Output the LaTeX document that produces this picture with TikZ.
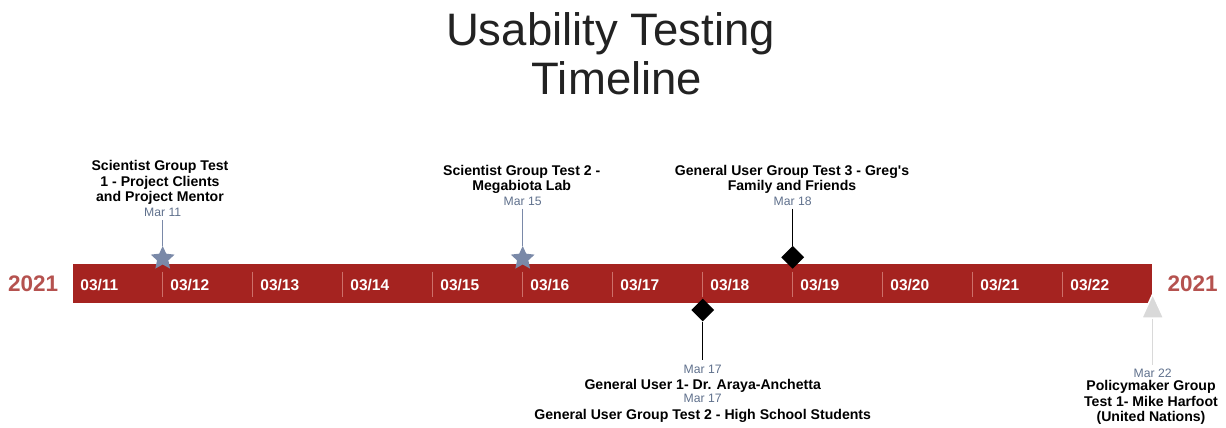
\documentclass[tikz,border=0pt]{standalone}
\usepackage{fontspec}
\setmainfont{Liberation Sans}[Ligatures=TeXOff]
\usetikzlibrary{shapes.geometric}

\definecolor{barred}{RGB}{165,35,32}
\definecolor{tickred}{RGB}{205,112,106}
\definecolor{yearred}{RGB}{181,82,79}
\definecolor{datecol}{RGB}{95,112,140}
\definecolor{starcol}{RGB}{122,137,168}
\definecolor{tricol}{RGB}{217,217,217}
\definecolor{titlecol}{RGB}{34,34,34}

\begin{document}
\begin{tikzpicture}[x=1pt,y=-1pt,
  titletext/.style={font=\fontsize{45.5}{49}\selectfont, text=titlecol, inner sep=0pt, anchor=base},
  daylabel/.style={font=\fontsize{15.5}{16}\selectfont\bfseries, text=white, inner sep=0pt, anchor=base west},
  yearlabel/.style={font=\fontsize{22.5}{24}\selectfont\bfseries, text=yearred, inner sep=0pt, anchor=base west},
  evtext/.style={font=\fontsize{14.1}{15.5}\selectfont\bfseries, align=center, inner sep=0pt, text depth=0pt},
  datetext/.style={font=\fontsize{12.2}{13}\selectfont, text=datecol, inner sep=0pt, anchor=base},
  starmark/.style={star, star points=5, star point ratio=2.1, minimum size=25pt, inner sep=0pt, fill=starcol},
  diamark/.style={diamond, minimum width=23pt, minimum height=23pt, inner sep=0pt, fill=black},
  trimark/.style={isosceles triangle, isosceles triangle stretches, shape border rotate=90,
    minimum width=22pt, minimum height=24pt, inner sep=0pt, fill=tricol, draw=white, line width=1.5pt},
  stem/.style={line width=1.2pt},
  daytick/.style={draw=tickred, line width=0.9pt}
]
\useasboundingbox (0,0) rectangle (1226,428);

% title
\node[titletext] (title1) at (610.5,46) {Usability Testing};
\node[titletext] (title2) at (617,95) {Timeline};

% timeline bar
\node[fill=barred, minimum width=1079.3pt, minimum height=39pt, inner sep=0pt, anchor=north west] (bar) at (72.7,264) {};

% day separators and labels
\foreach \d [count=\k from 0] in {11,...,22}{
  \pgfmathsetmacro{\xx}{72.7+90*\k}
  \ifnum\k>0
    \draw[daytick] (\xx,271.7) -- (\xx,296.7);
  \fi
  \node[daylabel] (day\d) at (\xx+7.5,290) {03/\d};
}

% year labels
\node[yearlabel] (yearL) at (8,291.7) {2021};
\node[yearlabel] (yearR) at (1167.5,291.7) {2021};

% markers
\node[starmark] (m1) at (162.7,258.5) {};
\node[starmark] (m2) at (522.7,258.5) {};
\node[diamark] (m3) at (792.7,257.3) {};
\node[diamark] (m4) at (702.7,310) {};
\node[trimark] (m5) at (1152.7,311) {};

% events above the bar
\node[evtext, anchor=south] (ev1) at (160,201.7) {Scientist Group Test\\1 - Project Clients\\and Project Mentor};
\node[datetext] (d1) at (162.7,216.5) {Mar 11};

\node[evtext, anchor=south] (ev2) at (521.7,190.7) {Scientist Group Test 2 -\\Megabiota Lab};
\node[datetext] (d2) at (522.7,205.3) {Mar 15};

\node[evtext, anchor=south] (ev3) at (792,191) {General User Group Test 3 - Greg's\\Family and Friends};
\node[datetext] (d3) at (792.7,205.3) {Mar 18};

% events below the bar
\node[datetext] (d4a) at (702.7,373.3) {Mar 17};
\node[evtext, anchor=base] (ev4a) at (702.7,389.3) {General User 1- Dr. Araya-Anchetta};
\node[datetext] (d4b) at (702.7,402.5) {Mar 17};
\node[evtext, anchor=base] (ev4b) at (702.7,419) {General User Group Test 2 - High School Students};

\node[datetext] (d5) at (1152.7,377.6) {Mar 22};
\node[evtext, anchor=south] (ev5) at (1151,421.7) {Policymaker Group\\Test 1- Mike Harfoot\\(United Nations)};

% stems
\draw[stem, starcol, shorten <=3.5pt] (d1.south) -- (m1.north);
\draw[stem, starcol, shorten <=3pt] (d2.south) -- (m2.north);
\draw[stem, black, shorten <=3pt] (d3.south) -- (m3.north);
\draw[stem, black, shorten >=4.5pt] (m4.south) -- (d4a.north);
\draw[stem, tricol, shorten >=4pt] (m5.south) -- (d5.north);
\end{tikzpicture}
\end{document}
